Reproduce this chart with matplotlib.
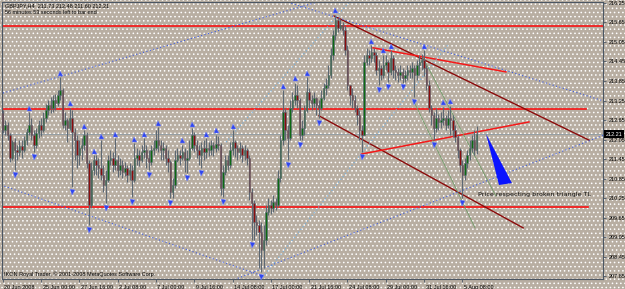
import matplotlib.pyplot as plt
import matplotlib.transforms as mtrans
from matplotlib.patches import Rectangle, Polygon
import numpy as np

plt.rcParams['font.family'] = ['Liberation Sans', 'DejaVu Sans']
plt.rcParams['hatch.color'] = 'white'
plt.rcParams['hatch.linewidth'] = 0.6

# GBPJPY H4 bars, 20 Jun - 5 Aug 2008 (open of each bar = previous close)
first_open = 212.86
close = [
    212.34, 212.49, 212.19, 211.48, 211.97, 211.72, 211.66, 211.85, 211.72, 212.03,
    212.28, 212.49, 212.19, 211.88, 212.25, 212.49, 212.34, 212.71, 212.95, 213.11,
    213.02, 213.26, 213.17, 213.42, 213.57, 212.49, 212.65, 212.40, 212.71, 212.28,
    212.03, 211.57, 211.79, 211.88, 212.19, 211.32, 210.03, 211.11, 211.42, 211.26,
    211.17, 210.96, 210.65, 210.80, 211.42, 211.48, 211.26, 211.42, 211.11, 211.26,
    211.05, 211.17, 210.96, 211.11, 210.80, 211.48, 211.57, 211.42, 211.66, 211.72,
    211.48, 211.35, 211.72, 211.79, 212.03, 211.88, 211.72, 211.79, 211.48, 211.35,
    210.43, 210.65, 211.42, 211.57, 211.48, 211.66, 211.42, 211.48, 211.79, 212.19,
    211.88, 211.72, 211.57, 211.79, 211.66, 211.79, 211.72, 211.88, 211.79, 211.91,
    211.88, 210.56, 211.05, 211.42, 211.26, 211.72, 211.97, 211.79, 211.66, 211.79,
    211.57, 211.72, 211.48, 210.43, 210.09, 209.51, 209.42, 209.20, 208.65, 208.95,
    209.82, 210.03, 209.94, 210.12, 210.03, 210.86, 212.03, 212.89, 212.34, 212.09,
    213.02, 213.26, 213.42, 213.26, 212.19, 212.40, 212.95, 213.51, 213.26, 213.17,
    213.32, 213.11, 213.02, 213.32, 213.63, 213.72, 214.03, 214.65, 215.26, 215.72,
    215.48, 215.57, 215.42, 214.80, 213.72, 213.42, 213.26, 213.02, 212.80, 212.34,
    212.19, 214.43, 214.65, 214.55, 214.74, 214.65, 214.19, 214.25, 214.03, 214.34,
    214.43, 214.12, 214.55, 214.19, 214.12, 214.03, 214.12, 213.94, 214.03, 214.19,
    214.12, 214.25, 214.03, 214.34, 214.43, 214.49, 214.25, 213.72, 213.02, 212.80,
    212.40, 212.71, 212.59, 212.65, 212.71, 212.49, 212.71, 212.65, 212.34, 212.12,
    211.72, 211.26, 210.96, 211.32, 211.57, 211.79, 212.03, 211.73, 212.21,
]
high = [
    212.95, 212.65, 212.59, 212.25, 212.03, 212.09, 211.88, 212.03, 212.03, 212.16,
    212.40, 212.89, 212.71, 212.34, 212.40, 212.65, 212.71, 212.89, 213.14, 213.26,
    213.35, 213.42, 213.45, 213.57, 213.97, 213.63, 212.89, 212.71, 213.02, 212.95,
    212.40, 212.19, 212.03, 212.09, 212.34, 212.28, 211.42, 211.35, 211.57, 211.57,
    211.48, 212.03, 211.26, 211.11, 211.57, 211.72, 211.66, 212.09, 211.57, 211.48,
    211.42, 211.35, 211.26, 211.32, 211.26, 211.94, 211.79, 211.72, 211.88, 212.09,
    211.88, 211.72, 211.88, 212.03, 212.34, 212.43, 212.03, 211.97, 211.88, 211.72,
    211.42, 210.86, 211.72, 211.79, 211.72, 211.88, 211.79, 211.72, 212.03, 212.40,
    212.28, 212.03, 211.88, 211.97, 212.03, 212.09, 211.97, 212.03, 211.97, 212.19,
    212.16, 211.94, 211.26, 211.57, 211.57, 211.97, 212.34, 212.03, 211.88, 211.97,
    211.88, 211.88, 211.79, 211.57, 210.56, 210.19, 209.72, 209.57, 209.51, 209.42,
    210.03, 210.25, 210.19, 210.34, 210.25, 211.11, 212.19, 213.57, 213.02, 212.49,
    213.26, 213.51, 213.79, 213.72, 213.32, 212.65, 213.11, 213.97, 213.63, 213.42,
    213.51, 213.35, 213.26, 213.57, 213.79, 213.94, 214.34, 214.86, 215.42, 215.88,
    215.79, 215.76, 215.66, 215.57, 214.95, 213.72, 213.63, 213.42, 213.11, 212.95,
    212.49, 214.65, 214.86, 214.80, 214.95, 214.86, 214.74, 214.49, 214.34, 214.65,
    214.65, 214.49, 214.80, 214.65, 214.34, 214.25, 214.34, 214.25, 214.19, 214.34,
    214.34, 214.43, 214.34, 214.49, 214.65, 214.68, 214.80, 214.34, 213.88, 213.11,
    212.89, 213.02, 212.83, 212.89, 213.05, 212.80, 212.95, 213.08, 212.80, 212.49,
    212.19, 211.79, 211.42, 211.48, 211.72, 212.03, 212.19, 212.34, 212.48,
]
low = [
    212.25, 212.19, 212.03, 211.35, 211.42, 211.11, 211.42, 211.54, 211.48, 211.66,
    211.88, 212.19, 212.03, 211.66, 211.79, 212.09, 212.16, 212.28, 212.59, 212.80,
    212.86, 212.89, 212.95, 213.08, 213.26, 212.40, 212.34, 211.97, 212.34, 210.59,
    211.42, 211.17, 211.26, 211.42, 211.72, 211.17, 209.42, 209.94, 210.96, 210.96,
    210.86, 210.80, 210.43, 210.09, 210.74, 211.26, 211.05, 211.11, 210.89, 210.96,
    210.86, 210.92, 210.74, 210.80, 210.28, 210.74, 211.26, 211.23, 211.35, 211.48,
    211.17, 211.11, 211.26, 211.57, 211.72, 211.66, 211.42, 211.42, 211.26, 211.05,
    210.25, 210.25, 210.56, 211.35, 211.26, 211.42, 211.05, 211.02, 211.42, 211.72,
    211.66, 211.48, 211.26, 211.17, 211.42, 211.48, 211.54, 211.57, 211.54, 211.66,
    211.72, 210.34, 210.28, 210.96, 211.11, 211.17, 211.57, 211.51, 211.42, 211.48,
    211.35, 211.42, 211.26, 210.19, 208.95, 208.95, 209.11, 208.10, 207.97, 208.10,
    208.80, 209.72, 209.75, 209.82, 209.88, 209.97, 210.74, 211.88, 212.03, 211.42,
    212.03, 212.89, 213.11, 213.02, 212.03, 212.03, 212.19, 212.89, 213.02, 212.95,
    213.05, 212.80, 212.71, 212.95, 213.26, 213.42, 213.63, 213.94, 214.49, 215.11,
    215.36, 215.42, 215.26, 214.65, 213.57, 213.11, 213.02, 212.89, 212.49, 212.03,
    211.66, 212.19, 214.34, 214.34, 214.43, 214.43, 214.03, 213.72, 213.88, 213.94,
    214.19, 213.82, 214.03, 213.94, 213.88, 213.82, 213.88, 213.79, 213.82, 213.88,
    213.94, 213.94, 213.35, 213.88, 214.03, 214.19, 214.00, 213.57, 212.89, 212.49,
    212.03, 212.28, 212.34, 212.40, 212.49, 212.34, 212.40, 212.19, 212.12, 211.97,
    211.48, 211.05, 210.25, 210.80, 211.17, 211.42, 211.66, 211.57, 211.60,
]

time_labels = ['20 Jun 2008', '25 Jun 00:00', '27 Jun 16:00', '2 Jul 08:00',
               '7 Jul 00:00', '9 Jul 16:00', '14 Jul 08:00', '17 Jul 00:00',
               '21 Jul 16:00', '24 Jul 08:00', '29 Jul 00:00', '31 Jul 16:00',
               '5 Aug 08:00']
price_ticks = [216.25, 215.65, 215.05, 214.45, 213.85, 213.25, 212.65, 212.05,
               211.45, 210.85, 210.25, 209.65, 209.05, 208.45, 207.85]
last_price = 212.21

# drawn objects, anchors as (bar, price)
levels = [(215.55, 251.0), (213.00, 243.7), (209.97, 244.5)]
channel_top = [(138.4, 215.85), (244.9, 212.03)]
channel_bottom = [(132.1, 212.78), (217.4, 209.33)]
triangle_top = [(154.7, 214.87), (210.2, 214.13)]
triangle_bottom = [(149.7, 211.60), (219.8, 212.59)]
green_lines = [[(175.6, 214.56), (206.0, 210.31)], [(171.4, 213.27), (197.3, 209.33)]]
blue_dotted = [[(0.1, 213.48), (134.2, 216.34)], [(116.3, 216.34), (251.2, 213.23)],
               [(-0.7, 210.65), (108.7, 207.85)], [(95.4, 207.70), (251.2, 212.19)]]
cyan_dotted = [[(108.7, 207.82), (186.0, 214.96)], [(93.3, 211.97), (145.5, 216.34)]]
arrow_shape = [(201.9, 212.22), (207.3, 210.65), (212.7, 210.71)]
note = 'Price respecting broken triangle TL'

bg = '#b8aea2'
bull, bear, wick = '#0c6a12', '#8a0c0c', '#5d6873'

fig = plt.figure(figsize=(6.25, 2.89), dpi=100)
fig.patch.set_facecolor(bg)
fig.patches.append(Rectangle((0, 0), 1, 1, transform=fig.transFigure, facecolor=bg,
                             edgecolor='white', hatch='....', lw=0, zorder=-10))
ax = fig.add_axes([2 / 625, 10 / 289, 601 / 625, 277.5 / 289])
ax.set_facecolor('none')
ax.set_xlim(-0.3, -0.3 + 601 / 2.394)
ax.set_ylim(207.758, 216.296)

# horizontal levels and current price
for y, x1 in levels:
    ax.plot([-0.3, x1], [y, y], color='#f41818', lw=1.25, zorder=2)
ax.axhline(last_price, color='#8e9ba4', lw=0.6, zorder=1)

def seg(pts, **kw):
    ax.plot([p[0] for p in pts], [p[1] for p in pts], **kw)

seg(channel_top, color='#8b0a0a', lw=1.0, zorder=2)
seg(channel_bottom, color='#8b0a0a', lw=1.0, zorder=2)
seg(triangle_top, color='#f41818', lw=1.1, zorder=2)
seg(triangle_bottom, color='#f41818', lw=1.1, zorder=2)
for g in green_lines:
    seg(g, color='#6f9a66', lw=0.6, zorder=2)
for d in blue_dotted:
    seg(d, color='#3e5ee6', lw=0.8, ls=(0, (1, 2.2)), zorder=2)
for d in cyan_dotted:
    seg(d, color='#6fb2e6', lw=0.8, ls=(0, (1, 2.2)), zorder=2)

# candles
c = np.array(close)
o = np.array([first_open] + close[:-1])
h = np.array(high)
l = np.array(low)
idx = np.arange(len(c))
up = c >= o
ax.vlines(idx, l, h, color=wick, lw=0.8, zorder=3)
ax.bar(idx[up], (c - o)[up], bottom=o[up], width=0.62, color=bull,
       edgecolor=wick, lw=0.4, zorder=4)
ax.bar(idx[~up], (o - c)[~up], bottom=c[~up], width=0.62, color=bear,
       edgecolor=wick, lw=0.4, zorder=4)

# Bill Williams fractals
n = len(c)
fu = [i for i in range(2, n - 2) if h[i] > max(h[i - 2], h[i - 1]) and h[i] >= max(h[i + 1], h[i + 2])]
fd = [i for i in range(2, n - 2) if l[i] < min(l[i - 2], l[i - 1]) and l[i] <= min(l[i + 1], l[i + 2])]
ax.plot(fu, h[fu] + 0.14, ls='none', marker='^', ms=3.6, color='#2f46ee',
        mec='#7f8cff', mew=0.3, zorder=5, clip_on=False)
ax.plot(fd, l[fd] - 0.14, ls='none', marker='v', ms=3.6, color='#2f46ee',
        mec='#7f8cff', mew=0.3, zorder=5, clip_on=False)

ax.add_patch(Polygon(arrow_shape, closed=True, color='#0a14ff', lw=0, zorder=6))
ax.text(198.5, 210.37, note, fontsize=4.6, family='DejaVu Sans', va='center',
        ha='left', color='#101010', zorder=6)

# axes styling
for s in ax.spines.values():
    s.set_color('#4b5663')
    s.set_linewidth(0.8)
ax.yaxis.tick_right()
ax.set_yticks(price_ticks)
ax.set_yticklabels([f'{v:.2f}' for v in price_ticks])
ax.tick_params(axis='y', direction='out', length=2.5, width=0.6, pad=1.5,
               labelsize=4, color='#4b5663', labelcolor='black')
ax.set_xticks(np.arange(len(time_labels)) * 16)
ax.set_xticklabels(time_labels)
ax.tick_params(axis='x', direction='out', length=2.5, width=0.6, pad=1.5,
               labelsize=4, color='#4b5663', labelcolor='black')
shift = mtrans.ScaledTranslation(1.5 / 100, 0, fig.dpi_scale_trans)
for lbl in ax.get_xticklabels():
    lbl.set_ha('left')
    lbl.set_transform(lbl.get_transform() + shift)

blend = mtrans.blended_transform_factory(ax.transAxes, ax.transData)
ax.text(1.004, last_price, f'{last_price:.2f}', transform=blend, fontsize=4,
        color='white', ha='left', va='center', zorder=10, clip_on=False,
        bbox=dict(boxstyle='square,pad=0.25', fc='black', ec='none'))

fig.text(5 / 625, 1 - 5.5 / 289, 'GBPJPY,H4  211.73 212.48 211.60 212.21',
         fontsize=4, va='center', ha='left', color='black')
fig.text(5 / 625, 1 - 12.5 / 289, '56 minutes 53 seconds left to bar end',
         fontsize=4, va='center', ha='left', color='black')
fig.text(4 / 625, 1 - 274 / 289,
         'IKON Royal Trader, \u00a9 2001-2008 MetaQuotes Software Corp.',
         fontsize=4, va='center', ha='left', color='black')

fig.savefig('out.png', dpi=100, facecolor=bg)
